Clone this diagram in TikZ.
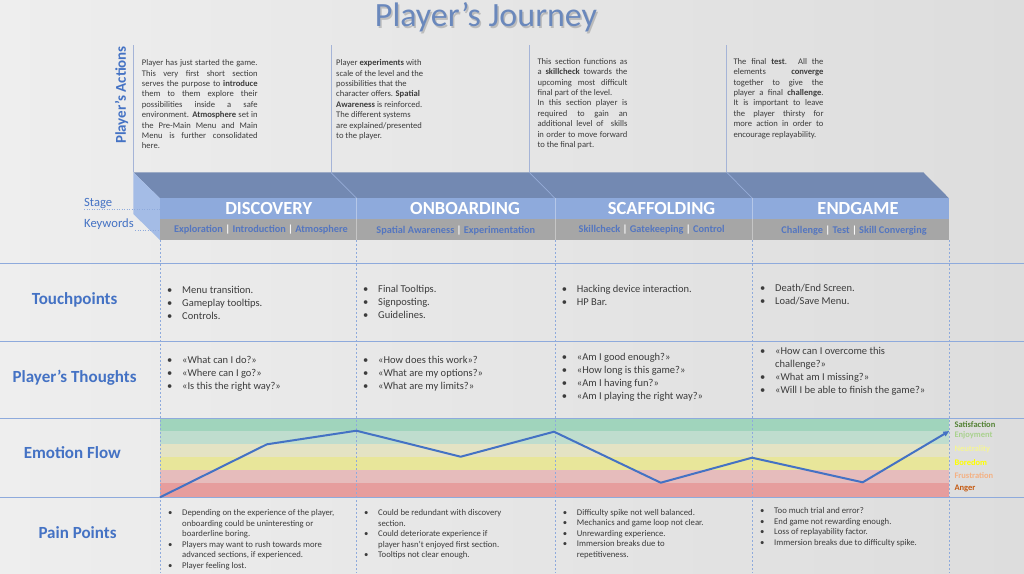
\documentclass[tikz,border=0pt]{standalone}
\usepackage{fontspec}
\setmainfont{Carlito}
\usetikzlibrary{arrows.meta}
\definecolor{jblue}{RGB}{68,114,196}
\definecolor{topface}{RGB}{115,137,178}
\definecolor{sideface}{RGB}{164,188,230}
\definecolor{stageband}{RGB}{142,170,220}
\definecolor{kwband}{RGB}{166,166,166}
\definecolor{kwtext}{RGB}{84,118,192}
\definecolor{gridc}{RGB}{142,170,220}
\definecolor{txt}{RGB}{60,60,60}
\definecolor{titleblue}{RGB}{106,136,188}
\definecolor{vlinec}{RGB}{165,180,215}
\definecolor{diagc}{RGB}{150,172,215}
\definecolor{bgl}{RGB}{238,238,238}
\definecolor{bgr}{RGB}{221,221,221}
\definecolor{bandA}{RGB}{160,212,188}
\definecolor{bandB}{RGB}{191,221,206}
\definecolor{bandC}{RGB}{228,227,196}
\definecolor{bandD}{RGB}{232,230,154}
\definecolor{bandE}{RGB}{230,188,188}
\definecolor{bandF}{RGB}{230,157,157}
\definecolor{emSat}{RGB}{84,130,53}
\definecolor{emEnj}{RGB}{169,209,142}
\definecolor{emNeu}{RGB}{245,245,150}
\definecolor{emBor}{RGB}{255,255,0}
\definecolor{emFru}{RGB}{244,177,131}
\definecolor{emAng}{RGB}{197,90,17}
\newcommand\myfl{\rule{0pt}{9pt}}
\newcommand\myflb{\rule{0pt}{11pt}}
\newcommand\jline[2]{\makebox[#1][s]{#2}}
\newcommand\bub{\makebox[15pt][l]{•}}
\newcommand\bup{\makebox[14pt][l]{•}}
\begin{document}
\begin{tikzpicture}[x=1pt,y=-1pt,
  para/.style={anchor=north west, inner sep=0pt, align=left, text=txt, font=\fontsize{8.6}{10.4}\selectfont},
  bul/.style={anchor=north west, inner sep=0pt, align=left, text=txt, font=\fontsize{10.5}{13}\selectfont},
  pain/.style={anchor=north west, inner sep=0pt, align=left, text=txt, font=\fontsize{8.7}{10.5}\selectfont},
  rowlabel/.style={text=jblue, inner sep=0pt, font=\fontsize{17}{20}\selectfont\bfseries},
  sidelabel/.style={text=jblue, inner sep=0pt, anchor=west, font=\fontsize{12.6}{14}\selectfont},
  stagename/.style={text=white, inner sep=0pt, font=\fontsize{18.5}{20}\selectfont\bfseries},
  kw/.style={text=kwtext, inner sep=0pt, font=\fontsize{10.3}{12}\selectfont\bfseries},
  emo/.style={anchor=west, inner sep=0pt, font=\fontsize{8.5}{10}\selectfont\bfseries},
  gridln/.style={draw=gridc, line width=0.8pt},
  secdash/.style={draw=gridc, line width=0.6pt, dash pattern=on 2pt off 2pt},
  dotln/.style={draw=gridc, line width=0.6pt, dash pattern=on 1pt off 1.5pt},
  topln/.style={draw=vlinec, line width=0.8pt},
  diagln/.style={draw=diagc, line width=0.7pt},
  emoline/.style={draw=jblue, line width=2pt, line join=round, -{Triangle[length=6pt,width=5pt]}}
]
\useasboundingbox (0,0) rectangle (1024,573);
\shade[left color=bgl, right color=bgr] (0,0) rectangle (1024,573);

% title
\node[text=black, opacity=0.18, inner sep=0pt, anchor=base, font=\fontsize{34}{36}\selectfont] (titleshadow) at (487.5,28.5) {Player’s Journey};
\node[text=titleblue, inner sep=0pt, anchor=base, font=\fontsize{34}{36}\selectfont] (title) at (486,26.7) {Player’s Journey};

% player's actions label
\node[rotate=90, text=jblue, inner sep=0pt, font=\fontsize{15}{17}\selectfont\bfseries] (actions) at (121.5,95) {Player’s Actions};

% top vertical lines
\foreach \xx in {133.3,331.7,529.3,726.7} \draw[topln] (\xx,45) -- (\xx,172.3);

% top paragraphs
\node[para] (act1) at (141.7,56.5) {\myfl\jline{115.7pt}{Player has just started the game.}\\
\jline{115.7pt}{This very first short section}\\
\jline{115.7pt}{serves the purpose to \textbf{introduce}}\\
\jline{115.7pt}{them to them explore their}\\
\jline{115.7pt}{possibilities inside a safe}\\
\jline{115.7pt}{environment. \textbf{Atmosphere} set in}\\
\jline{115.7pt}{the Pre-Main Menu and Main}\\
\jline{115.7pt}{Menu is further consolidated}\\
here.};
\node[para] (act2) at (336,56.5) {\myfl Player \textbf{experiments} with\\
scale of the level and the\\
possibilities that the\\
character offers. \textbf{Spatial}\\
\textbf{Awareness} is reinforced.\\
The different systems\\
are explained/presented\\
to the player.};
\node[para] (act3) at (537.3,55) {\myfl\jline{90pt}{This section functions as}\\
\jline{90pt}{a \textbf{skillcheck} towards the}\\
\jline{90pt}{upcoming most difficult}\\
final part of the level.\\
\jline{90pt}{In this section player is}\\
\jline{90pt}{required to gain an}\\
\jline{90pt}{additional level of \ skills}\\
\jline{90pt}{in order to move forward}\\
to the final part.};
\node[para] (act4) at (733.3,55) {\myfl\jline{90pt}{The final \textbf{test}. All the}\\
\jline{90pt}{elements \textbf{converge}}\\
\jline{90pt}{together to give the}\\
\jline{90pt}{player a final \textbf{challenge}.}\\
\jline{90pt}{It is important to leave}\\
\jline{90pt}{the player thirsty for}\\
\jline{90pt}{more action in order to}\\
encourage replayability.};

% 3D stage box
\fill[topface] (133.3,172.3) -- (923.3,172.3) -- (949,198.3) -- (160,198.3) -- cycle;
\fill[sideface] (133.3,172.3) -- (160,198.3) -- (160,240) -- (133.3,214) -- cycle;
\fill[stageband] (160,198.3) rectangle (949,219.3);
\fill[kwband] (160,219.3) rectangle (949,240);
\draw[diagln] (330.7,172.3) -- (356.7,198.3);
\draw[diagln] (529.3,172.3) -- (555,198.3);
\draw[diagln] (726.7,172.3) -- (752.3,198.3);
\foreach \xx in {356.7,555,752.3} \draw[white, opacity=0.35, line width=0.6pt] (\xx,198.3) -- (\xx,240);

% side labels
\node[sidelabel] (stagelbl) at (84,203.3) {Stage};
\node[sidelabel] (kwlbl) at (84,224.3) {Keywords};
\draw[dotln] (84,209.3) -- (160,209.3);
\draw[dotln] (135,230.7) -- (160,230.7);

% stage names
\node[stagename] (s1) at (268.7,208.3) {DISCOVERY};
\node[stagename] (s2) at (465,208.3) {ONBOARDING};
\node[stagename] (s3) at (661.5,208.3) {SCAFFOLDING};
\node[stagename] (s4) at (858,208.3) {ENDGAME};

% keywords
\node[kw] (k1) at (261,229.3) {Exploration \textcolor{white}{|} Introduction \textcolor{white}{|} Atmosphere};
\node[kw] (k2) at (455.8,230.7) {Spatial Awareness \textcolor{white}{|} Experimentation};
\node[kw] (k3) at (651.7,229.3) {Skillcheck \textcolor{white}{|} Gatekeeping \textcolor{white}{|} Control};
\node[kw] (k4) at (854,230.3) {Challenge \textcolor{white}{|} Test \textcolor{white}{|} Skill Converging};

% emotion bands
\fill[bandA] (160,418.3) rectangle (949,431);
\fill[bandB] (160,431) rectangle (949,444.3);
\fill[bandC] (160,444.3) rectangle (949,457.3);
\fill[bandD] (160,457.3) rectangle (949,470);
\fill[bandE] (160,470) rectangle (949,483.3);
\fill[bandF] (160,483.3) rectangle (949,497.3);

% grid lines
\foreach \yy in {263.3,341,418.3,497.3} \draw[gridln] (0,\yy) -- (1024,\yy);
\foreach \xx in {160,356.7,555,752.3,949} \draw[secdash] (\xx,240) -- (\xx,573);

% row labels
\node[rowlabel] (rtouch) at (74.6,300) {Touchpoints};
\node[rowlabel] (rthought) at (74.6,377.3) {Player’s Thoughts};
\node[rowlabel] (remo) at (72.3,452.7) {Emotion Flow};
\node[rowlabel] (rpain) at (77.5,532.3) {Pain Points};

% touchpoints
\node[bul] (t1) at (167,282) {\myflb\bub Menu transition.\\ \bub Gameplay tooltips.\\ \bub Controls.};
\node[bul] (t2) at (363,281) {\myflb\bub Final Tooltips.\\ \bub Signposting.\\ \bub Guidelines.};
\node[bul] (t3) at (561.7,281.3) {\myflb\bub Hacking device interaction.\\ \bub HP Bar.};
\node[bul] (t4) at (760,280.7) {\myflb\bub Death/End Screen.\\ \bub Load/Save Menu.};

% thoughts
\node[bul] (p1) at (167,352) {\myflb\bub «What can I do?»\\ \bub «Where can I go?»\\ \bub «Is this the right way?»};
\node[bul] (p2) at (363,352.7) {\myflb\bub «How does this work»?\\ \bub «What are my options?»\\ \bub «What are my limits?»};
\node[bul] (p3) at (561.7,349.7) {\myflb\bub «Am I good enough?»\\ \bub «How long is this game?»\\ \bub «Am I having fun?»\\ \bub «Am I playing the right way?»};
\node[bul] (p4) at (760,343.7) {\myflb\bub «How can I overcome this\\ \hspace*{15pt}challenge?»\\ \bub «What am I missing?»\\ \bub «Will I be able to finish the game?»};

% emotion labels
\node[emo, text=emSat] (lsat) at (954.3,424.3) {Satisfaction};
\node[emo, text=emEnj] (lenj) at (954.3,435.7) {Enjoyment};
\node[emo, text=emNeu] (lneu) at (954.3,449.3) {Neutrality};
\node[emo, text=emBor] (lbor) at (954.3,462.3) {Boredom};
\node[emo, text=emFru] (lfru) at (954.3,475.3) {Frustration};
\node[emo, text=emAng] (lang) at (954.3,488.7) {Anger};

% emotion line
\coordinate (e0) at (160,497.3);
\coordinate (e1) at (266.9,444.3);
\coordinate (e2) at (356.4,430.7);
\coordinate (e3) at (460.7,456.7);
\coordinate (e4) at (554,431.7);
\coordinate (e5) at (660.7,482.7);
\coordinate (e6) at (752,457.7);
\coordinate (e7) at (862.7,482.3);
\coordinate (e8) at (949.3,431);
\draw[emoline] (e0) -- (e1) -- (e2) -- (e3) -- (e4) -- (e5) -- (e6) -- (e7) -- (e8);

% pain points
\node[pain] (q1) at (168,506.5) {\myfl\bup Depending on the experience of the player,\\ \hspace*{14pt}onboarding could be uninteresting or\\ \hspace*{14pt}boarderline boring.\\ \bup Players may want to rush towards more\\ \hspace*{14pt}advanced sections, if experienced.\\ \bup Player feeling lost.};
\node[pain] (q2) at (364,506.5) {\myfl\bup Could be redundant with discovery\\ \hspace*{14pt}section.\\ \bup Could deteriorate experience if\\ \hspace*{14pt}player hasn’t enjoyed first section.\\ \bup Tooltips not clear enough.};
\node[pain] (q3) at (562.7,505.8) {\myfl\bup Difficulty spike not well balanced.\\ \bup Mechanics and game loop not clear.\\ \bup Unrewarding experience.\\ \bup Immersion breaks due to\\ \hspace*{14pt}repetitiveness.};
\node[pain] (q4) at (760,504.5) {\myfl\bup Too much trial and error?\\ \bup End game not rewarding enough.\\ \bup Loss of replayability factor.\\ \bup Immersion breaks due to difficulty spike.};
\end{tikzpicture}
\end{document}
